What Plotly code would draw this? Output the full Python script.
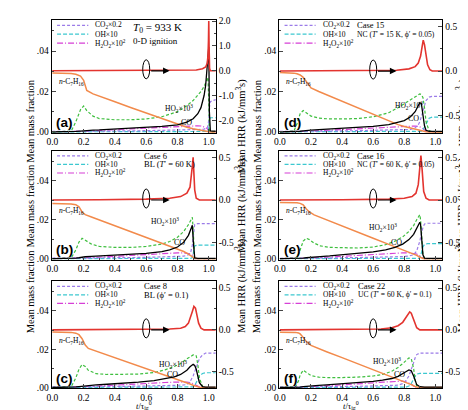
import plotly.graph_objects as go

# ---------------- panel (a) : 0-D ignition ----------------
T_A = [0.00, 0.08, 0.12, 0.15, 0.18, 0.20, 0.22, 0.26, 0.30, 0.40, 0.50, 0.60, 0.70, 0.80, 0.86, 0.90, 0.93, 0.95, 0.97, 0.98, 0.99, 0.995, 1.000, 1.004, 1.010, 1.045]
FUEL_A = [0.0292, 0.0291, 0.0289, 0.0285, 0.0276, 0.0255, 0.0205, 0.0188, 0.0176, 0.0149, 0.0121, 0.0093, 0.0064, 0.0036, 0.0023, 0.0015, 0.0010, 0.0007, 0.0004, 0.0003, 0.0002, 0.0001, 0.0000, 0.0000, 0.0000, 0.0000]
HO2_A = [0.0000, 0.0000, 0.0003, 0.0050, 0.0110, 0.0128, 0.0105, 0.0078, 0.0066, 0.0060, 0.0060, 0.0064, 0.0075, 0.0100, 0.0130, 0.0155, 0.0180, 0.0200, 0.0225, 0.0240, 0.0260, 0.0270, 0.0150, 0.0005, 0.0000, 0.0000]
CO_A = [0.0000, 0.0000, 0.0001, 0.0002, 0.0004, 0.0006, 0.0007, 0.0009, 0.0010, 0.0014, 0.0018, 0.0022, 0.0027, 0.0035, 0.0048, 0.0065, 0.0090, 0.0120, 0.0180, 0.0230, 0.0310, 0.0360, 0.0420, 0.0100, 0.0005, 0.0003]
CO2_A = [0.0002, 0.0002, 0.0002, 0.0002, 0.0003, 0.0003, 0.0003, 0.0004, 0.0004, 0.0005, 0.0005, 0.0006, 0.0007, 0.0008, 0.0009, 0.0010, 0.0011, 0.0012, 0.0014, 0.0016, 0.0020, 0.0030, 0.0060, 0.0120, 0.0150, 0.0160]
OH_A = [0.0000, 0.0000, 0.0000, 0.0000, 0.0000, 0.0000, 0.0000, 0.0000, 0.0000, 0.0000, 0.0000, 0.0000, 0.0000, 0.0000, 0.0000, 0.0000, 0.0000, 0.0000, 0.0001, 0.0001, 0.0002, 0.0004, 0.0020, 0.0060, 0.0070, 0.0070]
H2O2_A = [0.0000, 0.0000, 0.0000, 0.0001, 0.0002, 0.0003, 0.0004, 0.0005, 0.0007, 0.0011, 0.0015, 0.0019, 0.0023, 0.0027, 0.0029, 0.0030, 0.0030, 0.0029, 0.0026, 0.0022, 0.0016, 0.0010, 0.0004, 0.0001, 0.0000, 0.0000]
HRR_T_A = [0.00, 0.50, 0.85, 0.92, 0.96, 0.98, 0.99, 0.995, 0.998, 1.000, 1.002, 1.005, 1.010, 1.045]
HRR_A = [0.00, 0.00, 0.01, 0.03, 0.08, 0.15, 0.30, 0.60, 1.20, 2.00, 1.00, 0.10, 0.00, 0.00]

# ---------------- panel (b) : Case 6 ----------------
T_B = [0.00, 0.08, 0.12, 0.15, 0.17, 0.19, 0.21, 0.25, 0.30, 0.40, 0.50, 0.60, 0.70, 0.75, 0.80, 0.84, 0.87, 0.885, 0.895, 0.900, 0.905, 0.910, 0.930, 0.960, 1.045]
FUEL_B = [0.0283, 0.0283, 0.0281, 0.0277, 0.0266, 0.0240, 0.0226, 0.0214, 0.0199, 0.0170, 0.0140, 0.0111, 0.0082, 0.0067, 0.0053, 0.0037, 0.0024, 0.0016, 0.0010, 0.0007, 0.0004, 0.0002, 0.0000, 0.0000, 0.0000]
HO2_B = [0.0000, 0.0000, 0.0003, 0.0045, 0.0085, 0.0105, 0.0095, 0.0075, 0.0063, 0.0058, 0.0058, 0.0063, 0.0075, 0.0088, 0.0110, 0.0140, 0.0175, 0.0200, 0.0212, 0.0150, 0.0010, 0.0000, 0.0000, 0.0000, 0.0000]
CO_B = [0.0000, 0.0000, 0.0001, 0.0003, 0.0005, 0.0008, 0.0010, 0.0012, 0.0014, 0.0017, 0.0021, 0.0027, 0.0036, 0.0045, 0.0060, 0.0085, 0.0120, 0.0150, 0.0172, 0.0100, 0.0020, 0.0004, 0.0002, 0.0002, 0.0002]
CO2_B = [0.0003, 0.0003, 0.0003, 0.0003, 0.0003, 0.0004, 0.0004, 0.0004, 0.0004, 0.0005, 0.0006, 0.0007, 0.0008, 0.0009, 0.0010, 0.0013, 0.0020, 0.0035, 0.0070, 0.0115, 0.0160, 0.0176, 0.0180, 0.0180, 0.0180]
OH_B = [0.0000, 0.0000, 0.0000, 0.0000, 0.0000, 0.0000, 0.0000, 0.0000, 0.0000, 0.0000, 0.0000, 0.0000, 0.0000, 0.0000, 0.0000, 0.0000, 0.0001, 0.0002, 0.0006, 0.0020, 0.0050, 0.0066, 0.0070, 0.0070, 0.0070]
H2O2_B = [0.0000, 0.0000, 0.0000, 0.0001, 0.0002, 0.0003, 0.0004, 0.0006, 0.0008, 0.0012, 0.0016, 0.0020, 0.0025, 0.0028, 0.0030, 0.0030, 0.0028, 0.0024, 0.0018, 0.0010, 0.0003, 0.0000, 0.0000, 0.0000, 0.0000]
HRR_T_B = [0.00, 0.12, 0.15, 0.18, 0.30, 0.60, 0.75, 0.82, 0.86, 0.88, 0.89, 0.895, 0.90, 0.905, 0.91, 0.92, 0.94, 1.045]
HRR_B = [0.000, 0.000, 0.008, 0.000, 0.003, 0.010, 0.020, 0.040, 0.080, 0.150, 0.280, 0.400, 0.500, 0.350, 0.120, 0.020, 0.000, 0.000]

# ---------------- panel (c) : Case 8 ----------------
T_C = [0.00, 0.08, 0.12, 0.15, 0.17, 0.19, 0.21, 0.23, 0.28, 0.35, 0.45, 0.55, 0.65, 0.72, 0.78, 0.82, 0.86, 0.88, 0.90, 0.91, 0.92, 0.93, 0.94, 0.96, 0.98, 1.045]
FUEL_C = [0.0290, 0.0290, 0.0288, 0.0284, 0.0276, 0.0255, 0.0222, 0.0204, 0.0190, 0.0170, 0.0141, 0.0112, 0.0083, 0.0063, 0.0046, 0.0035, 0.0024, 0.0018, 0.0012, 0.0009, 0.0006, 0.0003, 0.0001, 0.0000, 0.0000, 0.0000]
HO2_C = [0.0000, 0.0000, 0.0003, 0.0050, 0.0095, 0.0120, 0.0110, 0.0090, 0.0072, 0.0068, 0.0068, 0.0070, 0.0078, 0.0092, 0.0110, 0.0125, 0.0150, 0.0162, 0.0170, 0.0170, 0.0165, 0.0120, 0.0050, 0.0005, 0.0000, 0.0000]
CO_C = [0.0000, 0.0000, 0.0001, 0.0003, 0.0005, 0.0007, 0.0009, 0.0011, 0.0014, 0.0017, 0.0022, 0.0028, 0.0036, 0.0045, 0.0056, 0.0068, 0.0090, 0.0108, 0.0121, 0.0115, 0.0095, 0.0060, 0.0025, 0.0005, 0.0002, 0.0002]
CO2_C = [0.0003, 0.0003, 0.0003, 0.0003, 0.0003, 0.0004, 0.0004, 0.0004, 0.0004, 0.0005, 0.0006, 0.0007, 0.0008, 0.0009, 0.0010, 0.0012, 0.0015, 0.0030, 0.0060, 0.0080, 0.0105, 0.0130, 0.0150, 0.0170, 0.0180, 0.0180]
OH_C = [0.0000, 0.0000, 0.0000, 0.0000, 0.0000, 0.0000, 0.0000, 0.0000, 0.0000, 0.0000, 0.0000, 0.0000, 0.0000, 0.0000, 0.0000, 0.0000, 0.0000, 0.0001, 0.0003, 0.0010, 0.0025, 0.0045, 0.0060, 0.0073, 0.0077, 0.0077]
H2O2_C = [0.0000, 0.0000, 0.0000, 0.0001, 0.0002, 0.0003, 0.0004, 0.0005, 0.0008, 0.0011, 0.0015, 0.0019, 0.0023, 0.0026, 0.0028, 0.0029, 0.0028, 0.0026, 0.0022, 0.0018, 0.0012, 0.0006, 0.0002, 0.0000, 0.0000, 0.0000]
HRR_T_C = [0.00, 0.50, 0.75, 0.82, 0.85, 0.87, 0.885, 0.895, 0.905, 0.915, 0.925, 0.935, 0.95, 0.97, 1.045]
HRR_C = [0.000, 0.003, 0.010, 0.020, 0.040, 0.080, 0.150, 0.220, 0.280, 0.260, 0.170, 0.080, 0.020, 0.000, 0.000]

# ---------------- panel (d) : Case 15 ----------------
T_D = [0.00, 0.06, 0.09, 0.11, 0.13, 0.15, 0.17, 0.20, 0.25, 0.30, 0.40, 0.50, 0.60, 0.70, 0.76, 0.80, 0.84, 0.87, 0.89, 0.90, 0.91, 0.92, 0.93, 0.94, 0.96, 0.98, 1.045]
FUEL_D = [0.0294, 0.0293, 0.0291, 0.0288, 0.0282, 0.0270, 0.0248, 0.0218, 0.0200, 0.0184, 0.0151, 0.0118, 0.0085, 0.0053, 0.0036, 0.0027, 0.0019, 0.0013, 0.0009, 0.0007, 0.0005, 0.0003, 0.0002, 0.0001, 0.0000, 0.0000, 0.0000]
HO2_D = [0.0000, 0.0000, 0.0003, 0.0040, 0.0090, 0.0106, 0.0095, 0.0078, 0.0068, 0.0065, 0.0064, 0.0066, 0.0075, 0.0095, 0.0120, 0.0140, 0.0158, 0.0175, 0.0185, 0.0188, 0.0185, 0.0170, 0.0120, 0.0050, 0.0005, 0.0000, 0.0000]
CO_D = [0.0000, 0.0000, 0.0000, 0.0001, 0.0003, 0.0005, 0.0007, 0.0009, 0.0011, 0.0013, 0.0017, 0.0021, 0.0027, 0.0036, 0.0046, 0.0056, 0.0075, 0.0100, 0.0130, 0.0145, 0.0140, 0.0090, 0.0030, 0.0008, 0.0003, 0.0002, 0.0002]
CO2_D = [0.0002, 0.0002, 0.0002, 0.0002, 0.0003, 0.0003, 0.0003, 0.0004, 0.0004, 0.0004, 0.0005, 0.0006, 0.0007, 0.0008, 0.0009, 0.0010, 0.0012, 0.0020, 0.0035, 0.0050, 0.0070, 0.0100, 0.0130, 0.0155, 0.0172, 0.0176, 0.0176]
OH_D = [0.0000, 0.0000, 0.0000, 0.0000, 0.0000, 0.0000, 0.0000, 0.0000, 0.0000, 0.0000, 0.0000, 0.0000, 0.0000, 0.0000, 0.0000, 0.0000, 0.0000, 0.0000, 0.0000, 0.0001, 0.0003, 0.0010, 0.0025, 0.0045, 0.0068, 0.0073, 0.0073]
H2O2_D = [0.0000, 0.0000, 0.0000, 0.0000, 0.0001, 0.0002, 0.0003, 0.0004, 0.0006, 0.0008, 0.0012, 0.0016, 0.0020, 0.0024, 0.0027, 0.0029, 0.0030, 0.0029, 0.0027, 0.0025, 0.0022, 0.0016, 0.0008, 0.0003, 0.0000, 0.0000, 0.0000]
HRR_T_D = [0.00, 0.50, 0.75, 0.83, 0.87, 0.89, 0.905, 0.915, 0.922, 0.93, 0.94, 0.95, 0.965, 0.98, 1.045]
HRR_D = [0.000, 0.003, 0.010, 0.025, 0.050, 0.090, 0.170, 0.280, 0.350, 0.300, 0.170, 0.070, 0.015, 0.000, 0.000]

# ---------------- panel (e) : Case 16 ----------------
T_E = [0.00, 0.08, 0.11, 0.13, 0.15, 0.17, 0.19, 0.22, 0.26, 0.32, 0.40, 0.50, 0.60, 0.68, 0.74, 0.79, 0.83, 0.86, 0.88, 0.895, 0.90, 0.905, 0.91, 0.92, 0.93, 0.95, 1.045]
FUEL_E = [0.0288, 0.0288, 0.0287, 0.0284, 0.0276, 0.0255, 0.0240, 0.0225, 0.0212, 0.0193, 0.0168, 0.0137, 0.0105, 0.0080, 0.0062, 0.0047, 0.0035, 0.0025, 0.0017, 0.0010, 0.0008, 0.0005, 0.0003, 0.0001, 0.0000, 0.0000, 0.0000]
HO2_E = [0.0000, 0.0000, 0.0003, 0.0045, 0.0090, 0.0105, 0.0098, 0.0080, 0.0066, 0.0058, 0.0055, 0.0055, 0.0060, 0.0072, 0.0090, 0.0112, 0.0140, 0.0170, 0.0200, 0.0222, 0.0226, 0.0200, 0.0120, 0.0020, 0.0000, 0.0000, 0.0000]
CO_E = [0.0000, 0.0000, 0.0000, 0.0001, 0.0003, 0.0005, 0.0007, 0.0009, 0.0011, 0.0014, 0.0019, 0.0026, 0.0035, 0.0045, 0.0058, 0.0075, 0.0098, 0.0125, 0.0155, 0.0180, 0.0187, 0.0175, 0.0110, 0.0020, 0.0003, 0.0002, 0.0002]
CO2_E = [0.0002, 0.0002, 0.0002, 0.0002, 0.0003, 0.0003, 0.0003, 0.0004, 0.0004, 0.0004, 0.0005, 0.0006, 0.0007, 0.0008, 0.0009, 0.0011, 0.0014, 0.0020, 0.0040, 0.0070, 0.0090, 0.0110, 0.0130, 0.0160, 0.0178, 0.0182, 0.0182]
OH_E = [0.0000, 0.0000, 0.0000, 0.0000, 0.0000, 0.0000, 0.0000, 0.0000, 0.0000, 0.0000, 0.0000, 0.0000, 0.0000, 0.0000, 0.0000, 0.0000, 0.0000, 0.0000, 0.0000, 0.0002, 0.0006, 0.0015, 0.0030, 0.0060, 0.0074, 0.0077, 0.0077]
H2O2_E = [0.0000, 0.0000, 0.0000, 0.0000, 0.0001, 0.0002, 0.0003, 0.0004, 0.0006, 0.0009, 0.0013, 0.0018, 0.0023, 0.0027, 0.0029, 0.0030, 0.0030, 0.0028, 0.0024, 0.0018, 0.0014, 0.0010, 0.0006, 0.0002, 0.0000, 0.0000, 0.0000]
HRR_T_E = [0.00, 0.12, 0.15, 0.18, 0.40, 0.70, 0.80, 0.85, 0.875, 0.89, 0.90, 0.907, 0.915, 0.925, 0.94, 0.96, 1.045]
HRR_E = [0.000, 0.000, 0.008, 0.000, 0.003, 0.010, 0.020, 0.040, 0.080, 0.180, 0.360, 0.520, 0.350, 0.100, 0.020, 0.000, 0.000]

# ---------------- panel (f) : Case 22 ----------------
T_F = [0.00, 0.07, 0.10, 0.12, 0.13, 0.15, 0.17, 0.20, 0.25, 0.30, 0.40, 0.50, 0.60, 0.66, 0.72, 0.76, 0.79, 0.81, 0.83, 0.845, 0.86, 0.87, 0.88, 0.90, 0.93, 1.045]
FUEL_F = [0.0289, 0.0289, 0.0288, 0.0285, 0.0280, 0.0262, 0.0240, 0.0220, 0.0202, 0.0187, 0.0156, 0.0125, 0.0094, 0.0075, 0.0056, 0.0043, 0.0034, 0.0028, 0.0021, 0.0015, 0.0009, 0.0005, 0.0002, 0.0000, 0.0000, 0.0000]
HO2_F = [0.0000, 0.0000, 0.0003, 0.0035, 0.0065, 0.0090, 0.0078, 0.0062, 0.0054, 0.0052, 0.0052, 0.0054, 0.0060, 0.0068, 0.0085, 0.0105, 0.0125, 0.0140, 0.0155, 0.0150, 0.0100, 0.0040, 0.0008, 0.0000, 0.0000, 0.0000]
CO_F = [0.0000, 0.0000, 0.0000, 0.0001, 0.0002, 0.0004, 0.0006, 0.0008, 0.0011, 0.0014, 0.0019, 0.0025, 0.0032, 0.0038, 0.0047, 0.0058, 0.0070, 0.0082, 0.0092, 0.0088, 0.0060, 0.0035, 0.0015, 0.0004, 0.0002, 0.0002]
CO2_F = [0.0002, 0.0002, 0.0002, 0.0002, 0.0002, 0.0003, 0.0003, 0.0003, 0.0004, 0.0004, 0.0005, 0.0006, 0.0007, 0.0008, 0.0009, 0.0012, 0.0020, 0.0035, 0.0060, 0.0090, 0.0130, 0.0155, 0.0172, 0.0180, 0.0180, 0.0180]
OH_F = [0.0000, 0.0000, 0.0000, 0.0000, 0.0000, 0.0000, 0.0000, 0.0000, 0.0000, 0.0000, 0.0000, 0.0000, 0.0000, 0.0000, 0.0000, 0.0000, 0.0000, 0.0002, 0.0008, 0.0020, 0.0045, 0.0060, 0.0070, 0.0074, 0.0074, 0.0074]
H2O2_F = [0.0000, 0.0000, 0.0000, 0.0000, 0.0001, 0.0002, 0.0003, 0.0004, 0.0006, 0.0009, 0.0014, 0.0019, 0.0024, 0.0028, 0.0031, 0.0033, 0.0033, 0.0030, 0.0025, 0.0018, 0.0008, 0.0003, 0.0000, 0.0000, 0.0000, 0.0000]
HRR_T_F = [0.00, 0.50, 0.65, 0.72, 0.76, 0.79, 0.81, 0.825, 0.835, 0.845, 0.855, 0.865, 0.88, 0.90, 1.045]
HRR_F = [0.000, 0.003, 0.010, 0.025, 0.050, 0.090, 0.140, 0.190, 0.215, 0.200, 0.150, 0.080, 0.025, 0.000, 0.000]

# ---------------- text ----------------
LETTERS = ["(a)", "(b)", "(c)", "(d)", "(e)", "(f)"]
CASE_LINE1 = ["<i>T</i><sub>0</sub> = 933 K", "Case 6", "Case 8", "Case 15", "Case 16", "Case 22"]
CASE_LINE2 = ["0-D ignition", "BL (<i>T</i>′ = 60 K)", "BL (ϕ′ = 0.1)",
              "NC (<i>T</i>′ = 15 K, ϕ′ = 0.05)", "NC (<i>T</i>′ = 60 K, ϕ′ = 0.05)",
              "UC (<i>T</i>′ = 60 K, ϕ′ = 0.1)"]
LEGEND_NAMES = ["CO<sub>2</sub>×0.2", "OH×10", "H<sub>2</sub>O<sub>2</sub>×10<sup>2</sup>"]
X_TICKS = [0.0, 0.2, 0.4, 0.6, 0.8, 1.0]
X_TICKTEXT = ["0.0", "0.2", "0.4", "0.6", "0.8", "1.0"]
Y_TICKS = [0.0, 0.02, 0.04]
Y_TICKTEXT = [".00", ".02", ".04"]

FONT = "Liberation Serif"
C_FUEL = "#f28a4b"
C_HRR = "#e3342f"
C_HO2 = "#3fbf3f"
C_CO = "#000000"
C_CO2 = "#9b7be8"
C_OH = "#3cc8d0"
C_H2O2 = "#d63fd6"
D_CO2 = "3px,2px"
D_OH = "4px,2px"
D_H2O2 = "6px,2px,1px,2px"

COL_X = [[39 / 468, 205 / 468], [269 / 468, 434 / 468]]
ROW_PX = [(9, 124), (142, 253), (275, 384)]
ROW_Y = [[1 - b / 410, 1 - t / 410] for (t, b) in ROW_PX]

panels = [
    dict(col=0, row=0, t=T_A, fuel=FUEL_A, ho2=HO2_A, co=CO_A, co2=CO2_A, oh=OH_A, h2o2=H2O2_A,
         ht=HRR_T_A, hrr=HRR_A, rr=[-2.5, 2.05], rt=[-2, -1, 0, 1, 2], rtt=["-2.0", "-1.0", "0.0", "1.0", "2.0"],
         rminor=[-1.5, -0.5, 0.5, 1.5], ho2lab=(0.81, 0.0115), colab=(0.86, 0.0045), casex=0.50),
    dict(col=0, row=1, t=T_B, fuel=FUEL_B, ho2=HO2_B, co=CO_B, co2=CO2_B, oh=OH_B, h2o2=H2O2_B,
         ht=HRR_T_B, hrr=HRR_B, rr=[-0.7, 0.58], rt=[-0.5, 0, 0.5], rtt=["-0.5", "0.0", "0.5"],
         rminor=[-0.25, 0.25], ho2lab=(0.72, 0.0190), colab=(0.81, 0.0085), casex=0.57),
    dict(col=0, row=2, t=T_C, fuel=FUEL_C, ho2=HO2_C, co=CO_C, co2=CO2_C, oh=OH_C, h2o2=H2O2_C,
         ht=HRR_T_C, hrr=HRR_C, rr=[-0.7, 0.58], rt=[-0.5, 0, 0.5], rtt=["-0.5", "0.0", "0.5"],
         rminor=[-0.25, 0.25], ho2lab=(0.77, 0.0118), colab=(0.77, 0.0070), casex=0.57),
    dict(col=1, row=0, t=T_D, fuel=FUEL_D, ho2=HO2_D, co=CO_D, co2=CO2_D, oh=OH_D, h2o2=H2O2_D,
         ht=HRR_T_D, hrr=HRR_D, rr=[-0.7, 0.58], rt=[-0.5, 0, 0.5], rtt=["-0.5", "0.0", "0.5"],
         rminor=[-0.25, 0.25], ho2lab=(0.83, 0.0130), colab=(0.86, 0.0068), casex=0.48),
    dict(col=1, row=1, t=T_E, fuel=FUEL_E, ho2=HO2_E, co=CO_E, co2=CO2_E, oh=OH_E, h2o2=H2O2_E,
         ht=HRR_T_E, hrr=HRR_E, rr=[-0.7, 0.58], rt=[-0.5, 0, 0.5], rtt=["-0.5", "0.0", "0.5"],
         rminor=[-0.25, 0.25], ho2lab=(0.66, 0.0158), colab=(0.75, 0.0084), casex=0.48),
    dict(col=1, row=2, t=T_F, fuel=FUEL_F, ho2=HO2_F, co=CO_F, co2=CO2_F, oh=OH_F, h2o2=H2O2_F,
         ht=HRR_T_F, hrr=HRR_F, rr=[-0.7, 0.58], rt=[-0.5, 0, 0.5], rtt=["-0.5", "0.0", "0.5"],
         rminor=[-0.25, 0.25], ho2lab=(0.69, 0.0135), colab=(0.77, 0.0070), casex=0.49),
]

fig = go.Figure()
layout = dict(width=468, height=410, margin=dict(l=0, r=0, t=0, b=0),
              paper_bgcolor="white", plot_bgcolor="white", showlegend=False,
              font=dict(family=FONT, size=10, color="black"))
annotations = []
shapes = []
tickfont = dict(family=FONT, size=9.5, color="black")

for k, p in enumerate(panels):
    xid = "x" if k == 0 else f"x{k + 1}"
    ly = "y" if k == 0 else f"y{2 * k + 1}"
    ry = f"y{2 * k + 2}"
    xkey = "xaxis" if k == 0 else f"xaxis{k + 1}"
    lkey = "yaxis" if k == 0 else f"yaxis{2 * k + 1}"
    rkey = f"yaxis{2 * k + 2}"

    layout[xkey] = dict(domain=COL_X[p["col"]], range=[-0.005, 1.045], anchor=ly,
                        tickvals=X_TICKS, ticktext=X_TICKTEXT, ticks="inside", ticklen=4,
                        minor=dict(ticks="inside", ticklen=2, tickvals=[0.1, 0.3, 0.5, 0.7, 0.9]),
                        showline=True, linecolor="black", linewidth=1, mirror=True,
                        showgrid=False, zeroline=False, tickfont=tickfont)
    layout[lkey] = dict(domain=ROW_Y[p["row"]], range=[-0.0005, 0.0555], anchor=xid,
                        tickvals=Y_TICKS, ticktext=Y_TICKTEXT, ticks="inside", ticklen=4,
                        minor=dict(ticks="inside", ticklen=2, tickvals=[0.01, 0.03, 0.05]),
                        showline=True, linecolor="black", linewidth=1,
                        showgrid=False, zeroline=False, tickfont=tickfont)
    layout[rkey] = dict(overlaying=ly, side="right", anchor=xid, range=p["rr"],
                        tickvals=p["rt"], ticktext=p["rtt"], ticks="inside", ticklen=4,
                        minor=dict(ticks="inside", ticklen=2, tickvals=p["rminor"]),
                        showline=True, linecolor="black", linewidth=1,
                        showgrid=False, zeroline=False, tickfont=tickfont)

    def add(y, color, dash, width=1.2):
        fig.add_trace(go.Scatter(x=p["t"], y=y, mode="lines", xaxis=xid, yaxis=ly,
                                 line=dict(color=color, width=width, dash=dash), hoverinfo="skip"))

    add(p["h2o2"], C_H2O2, D_H2O2)
    add(p["oh"], C_OH, D_OH)
    add(p["co2"], C_CO2, D_CO2)
    add(p["ho2"], C_HO2, D_CO2)
    add(p["fuel"], C_FUEL, "solid", 1.5)
    add(p["co"], C_CO, "solid", 1.3)
    fig.add_trace(go.Scatter(x=p["ht"], y=p["hrr"], mode="lines", xaxis=xid, yaxis=ry,
                             line=dict(color=C_HRR, width=1.6), hoverinfo="skip"))

    # in-panel legend
    leg_y = [0.0528, 0.0484, 0.0440]
    for name, col, dsh, yy in zip(LEGEND_NAMES, [C_CO2, C_OH, C_H2O2], [D_CO2, D_OH, D_H2O2], leg_y):
        shapes.append(dict(type="line", xref=xid, yref=ly, x0=0.03, x1=0.23, y0=yy, y1=yy,
                           line=dict(color=col, width=1.2, dash=dsh)))
        annotations.append(dict(xref=xid, yref=ly, x=0.262, y=yy, text=name, showarrow=False,
                                xanchor="left", yanchor="middle", font=dict(family=FONT, size=7.5)))

    # case text
    if k == 0:
        annotations.append(dict(xref=xid, yref=ly, x=p["casex"], y=0.0514, text=CASE_LINE1[k],
                                showarrow=False, xanchor="left", yanchor="middle",
                                font=dict(family=FONT, size=11)))
        annotations.append(dict(xref=xid, yref=ly, x=p["casex"], y=0.0450, text=CASE_LINE2[k],
                                showarrow=False, xanchor="left", yanchor="middle",
                                font=dict(family=FONT, size=9)))
    else:
        annotations.append(dict(xref=xid, yref=ly, x=p["casex"], y=0.0528, text=CASE_LINE1[k],
                                showarrow=False, xanchor="left", yanchor="middle",
                                font=dict(family=FONT, size=8.5)))
        annotations.append(dict(xref=xid, yref=ly, x=p["casex"], y=0.0484, text=CASE_LINE2[k],
                                showarrow=False, xanchor="left", yanchor="middle",
                                font=dict(family=FONT, size=8.5 if p["col"] == 0 else 7.6)))

    # species labels
    annotations.append(dict(xref=xid, yref=ly, x=0.12, y=0.0245,
                            text="<i>n</i>-C<sub>7</sub>H<sub>16</sub>", showarrow=False,
                            font=dict(family=FONT, size=7.5)))
    annotations.append(dict(xref=xid, yref=ly, x=p["ho2lab"][0], y=p["ho2lab"][1],
                            text="HO<sub>2</sub>×10<sup>3</sup>", showarrow=False,
                            font=dict(family=FONT, size=7.5)))
    annotations.append(dict(xref=xid, yref=ly, x=p["colab"][0], y=p["colab"][1],
                            text="CO", showarrow=False, font=dict(family=FONT, size=8)))
    # panel letter
    annotations.append(dict(xref=f"{xid} domain", yref=f"{ly} domain", x=0.015, y=0.005,
                            text="<b>" + LETTERS[k] + "</b>", showarrow=False,
                            xanchor="left", yanchor="bottom",
                            font=dict(family="Liberation Sans", size=13.5, color="black")))
    # ellipse + arrow pointing to the right axis
    shapes.append(dict(type="circle", xref=xid, yref=ry, xsizemode="pixel", ysizemode="pixel",
                       xanchor=0.60, yanchor=0, x0=-3.5, x1=3.5, y0=-8, y1=11,
                       line=dict(color="black", width=1)))
    annotations.append(dict(xref=xid, yref=ry, x=0.75, y=0, ax=-20, ay=0, text="",
                            showarrow=True, arrowhead=2, arrowsize=1.1, arrowwidth=1.2,
                            arrowcolor="black"))

# axis titles
for col in range(2):
    xl, xr = COL_X[col]
    left_x = [10, 247][col] / 468
    right_x = [230, 462][col] / 468
    for row in range(3):
        yc = (ROW_Y[row][0] + ROW_Y[row][1]) / 2
        annotations.append(dict(xref="paper", yref="paper", x=left_x, y=yc, text="Mean mass fraction",
                                textangle=-90, showarrow=False, font=dict(family=FONT, size=10.5)))
        annotations.append(dict(xref="paper", yref="paper", x=right_x, y=yc,
                                text="Mean HRR (kJ/mm<sup>3</sup>s)", textangle=-90, showarrow=False,
                                font=dict(family=FONT, size=10.5)))
    annotations.append(dict(xref="paper", yref="paper", x=(xl + xr) / 2, y=1 / 410,
                            yanchor="bottom",
                            text="<i>t</i>/τ<sub>ig</sub><sup>0</sup>", showarrow=False,
                            font=dict(family=FONT, size=8.5)))

layout["annotations"] = annotations
layout["shapes"] = shapes
fig.update_layout(**layout)
fig.write_html("out.html")
